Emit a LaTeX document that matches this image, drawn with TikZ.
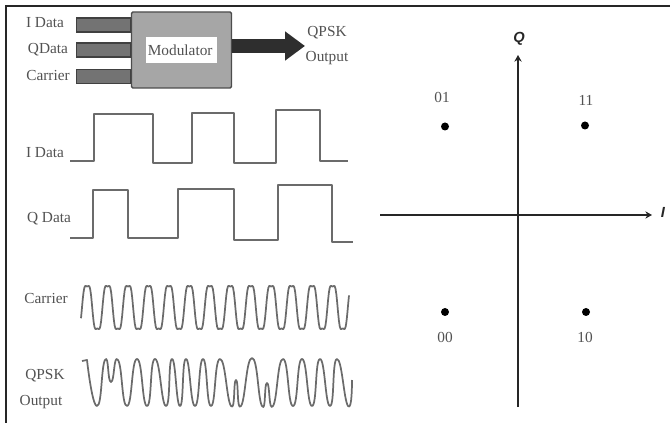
\documentclass[tikz,border=0pt]{standalone}
\usepackage{fontspec}
\setmainfont{Liberation Serif}
\newfontfamily\axisfont{Liberation Sans}
\usepackage{xcolor}
\usetikzlibrary{positioning, arrows.meta}

\begin{document}
\begin{tikzpicture}[
  x=0.75pt, y=-0.75pt,
  every node/.style={font=\fontsize{11.5}{13}\selectfont, text=black!68, inner sep=0pt},
  frameline/.style={draw=black!85, line width=1.4pt},
  modbox/.style={rectangle, draw=black!70, line width=1.1pt, rounded corners=1pt, fill=black!35,
                 minimum width=75pt, minimum height=57pt},
  modtext/.style={rectangle, fill=white, minimum width=53pt, minimum height=19pt},
  inbar/.style={rectangle, draw=black!75, line width=1pt, fill=black!55,
                minimum width=41pt, minimum height=10.5pt},
  bigarrow/.style={draw=black!82, line width=10.5pt,
                   -{Triangle[length=15pt, width=21pt]}},
  wave/.style={draw=black!58, line width=1.3pt, line join=round},
  axis/.style={draw=black!85, line width=1.1pt, -{Stealth[length=5pt, width=5.5pt]}},
  dot/.style={circle, fill=black, minimum size=6pt},
  axislabel/.style={font=\axisfont\bfseries\itshape\fontsize{11}{13}\selectfont, text=black!85},
]
  \useasboundingbox (0,0) rectangle (670,423);

  % frame
  \coordinate (frametl) at (6,6);
  \coordinate (framebl) at (6,423);
  \coordinate (frametr) at (670,6);
  \draw[frameline] (framebl) -- (frametl) -- (frametr);

  % modulator block
  \node[inbar] (ibar) at (103.5,25) {};
  \node[inbar] (qbar) at (103.5,50) {};
  \node[inbar] (cbar) at (103.5,76.5) {};
  \node[modbox] (modulator) at (181.5,50) {};
  \node[modtext] (modname) at (181.5,50) {\hspace{-2pt}Modulator\hspace{2pt}};
  \coordinate (qpsktip) at (305,46);
  \draw[bigarrow] (modulator.east |- qpsktip) -- (qpsktip);

  \node (ilabel) at (45,23) {I Data};
  \node (qlabel) at (48,50) {QData};
  \node (clabel) at (48,76) {Carrier};
  \node (qpskup) at (327,33) {QPSK};
  \node (qpskdown) at (327,58) {Output};

  % waveforms
  \node (iname) at (45,153) {I Data};
  \node (qname) at (49,219) {Q Data};
  \node (cname) at (46,298) {Carrier};
  \node (oname) at (45,376) {QPSK};
  \node (oname2) at (41,402) {Output};

  \draw[wave] (70,161) -- (94,161) -- (94,114) -- (153,114) -- (153,163) -- (192,163)
    -- (192,113) -- (234,113) -- (234,163) -- (276,163) -- (276,110) -- (320,110)
    -- (320,161) -- (348,161);
  \draw[wave] (70,238) -- (93,238) -- (93,190) -- (128,190) -- (128,238) -- (178,238)
    -- (178,189) -- (234,189) -- (234,240) -- (278,240) -- (278,185) -- (332,185)
    -- (332,242) -- (353,242);

  \draw[wave] plot[domain=81:349, samples=320]
    (\x, {307.5-25*(sin(17.604*(\x-82))+0.16*sin(52.81*(\x-82)))});

  \draw[wave] (82,361) -- (87,360) -- plot[smooth, tension=1] coordinates {
    (87,360) (97,406) (105,360) (111,382) (118,360) (127,406) (137,359)
    (147,406) (155,359) (166,406) (172,359) (180,406) (186,359) (195,406) (203,359)
    (211,406) (220,359) (231,406) (236,380) (241,406) (252,358) (262,406) (267,383)
    (273,406) (283,359) (293,406) (302,359) (312,406) (320,359) (330,406) (337,359)
    (348,406) (352,380)};

  % constellation
  \coordinate (qtop) at (518,55);
  \coordinate (qbot) at (518,407);
  \coordinate (ileft) at (380,215);
  \coordinate (iright) at (652,215);
  \draw[axis] (qbot) -- (qtop);
  \draw[axis] (ileft) -- (iright);
  \node[axislabel] (qaxis) at (519,39) {Q};
  \node[axislabel] (iaxis) at (663,212) {I};

  \node[dot] (p01) at (445,126.5) {};
  \node[dot] (p11) at (585,125.5) {};
  \node[dot] (p00) at (445,312) {};
  \node[dot] (p10) at (586,312) {};
  \node (t01) at (442,97) {01};
  \node (t11) at (586,100) {11};
  \node (t00) at (445,337) {00};
  \node (t10) at (585,337) {10};

\end{tikzpicture}
\end{document}
